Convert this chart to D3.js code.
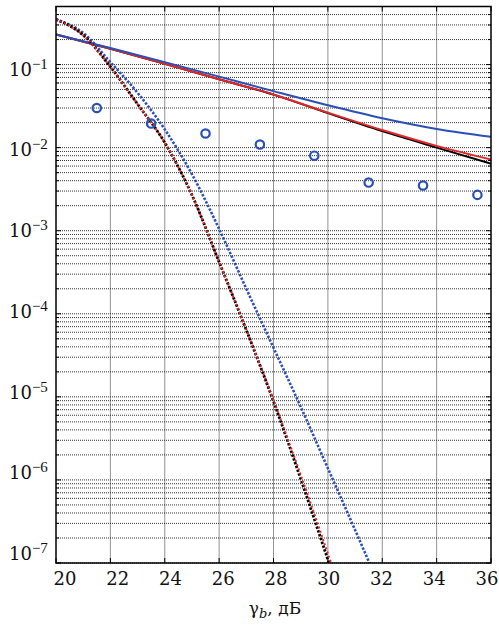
<!DOCTYPE html>
<html><head><meta charset="utf-8">
<script src="https://cdn.jsdelivr.net/npm/d3@7/dist/d3.min.js"></script>
<style>
html,body{margin:0;padding:0;background:#fff;}
svg{display:block;}
</style></head>
<body><svg id="chart" width="499" height="626"></svg>
<script>
// ---- data ----
const xTicks = [20,22,24,26,28,30,32,34,36];
const yTickExps = [-1,-2,-3,-4,-5,-6,-7];

const solidX = [20,22,24,26,28,30,32,34,36];
const berBlackSolid = [0.230,0.155,0.102,0.0665,0.0435,0.0260,0.0158,0.0100,0.0064];
const berRedSolid   = [0.230,0.155,0.102,0.0665,0.0437,0.0264,0.0163,0.0105,0.0072];
const berBlueSolid  = [0.230,0.158,0.107,0.0716,0.0479,0.0324,0.0226,0.0168,0.0135];

const dotX = [20,21,22,23,24,25,26,27,28,29,30,30.5,31,31.5,32];
const berBlackDot = [0.35,0.226,0.0942,0.0334,0.0115,2.69e-3,4.2e-4,6.37e-5,8.8e-6,1.03e-6,1.1e-7,3.6e-8,null,null,null];
const berRedDot   = [0.35,0.226,0.0942,0.0334,0.0115,2.69e-3,4.2e-4,6.45e-5,9.1e-6,1.15e-6,1.3e-7,4.3e-8,null,null,null];
const berBlueDot  = [0.35,0.24,0.107,0.0457,0.0166,4.79e-3,1.05e-3,2.0e-4,3.9e-5,7.6e-6,1.38e-6,5.9e-7,2.5e-7,1.05e-7,4.4e-8];

const circleX = [21.5,23.5,25.5,27.5,29.5,31.5,33.5,35.5];
const berCircles = [0.030,0.0195,0.0148,0.0109,0.0080,0.0038,0.0035,0.0027];

const xLabelMain = "γ", xLabelSub = "b", xLabelRest = ", дБ";

// ---- layout ----
const svg = d3.select("#chart");
const L = 56, R = 491, T = 6.5, B = 563;
const x = d3.scaleLinear().domain([20,36]).range([L,R]);
const y = d3.scaleLog().domain([1e-7,0.5]).range([B,T]);

const BLUE = "#2a4fb6", RED = "#e3262a", BLACK = "#000";
const serif = "'DejaVu Serif', serif";

svg.append("defs").append("clipPath").attr("id","clip")
  .append("rect").attr("x",L).attr("y",T).attr("width",R-L).attr("height",B-T);

// grid
const grid = svg.append("g");
const minorVals = [];
for (let e=-7; e<=-1; e++) for (let m=1; m<=9; m++) { const v = m*Math.pow(10,e); if (v<=0.5) minorVals.push(v); }
grid.selectAll("line.h").data(minorVals).join("line")
  .attr("x1",L).attr("x2",R).attr("y1",d=>y(d)).attr("y2",d=>y(d))
  .attr("stroke","#111").attr("stroke-width",1).attr("stroke-dasharray","1,1").attr("opacity",0.85);
grid.selectAll("line.v").data(xTicks.slice(1,-1)).join("line")
  .attr("y1",T).attr("y2",B).attr("x1",d=>x(d)).attr("x2",d=>x(d))
  .attr("stroke","#111").attr("stroke-width",1).attr("stroke-dasharray","1,1").attr("opacity",0.9);

// inward ticks
const tk = svg.append("g").attr("stroke","#000").attr("stroke-width",1);
minorVals.forEach(v=>{
  const len = (Math.abs(Math.log10(v)-Math.round(Math.log10(v)))<1e-9) ? 5 : 3;
  tk.append("line").attr("x1",L).attr("x2",L+len).attr("y1",y(v)).attr("y2",y(v));
  tk.append("line").attr("x1",R).attr("x2",R-len).attr("y1",y(v)).attr("y2",y(v));
});
xTicks.forEach(v=>{
  tk.append("line").attr("x1",x(v)).attr("x2",x(v)).attr("y1",B).attr("y2",B-5);
  tk.append("line").attr("x1",x(v)).attr("x2",x(v)).attr("y1",T).attr("y2",T+5);
});

// curves
const plot = svg.append("g").attr("clip-path","url(#clip)");
function drawLine(xs, ys, color, width, dash) {
  const pts = xs.map((xv,i)=>[xv, ys[i]]).filter(p=>p[1]!=null);
  plot.append("path").datum(pts)
    .attr("fill","none").attr("stroke",color).attr("stroke-width",width)
    .attr("stroke-dasharray",dash||null)
    .attr("d", d3.line().x(d=>x(d[0])).y(d=>y(d[1])).curve(d3.curveMonotoneX));
}
drawLine(solidX, berBlackSolid, BLACK, 2);
drawLine(solidX, berRedSolid, RED, 2);
drawLine(solidX, berBlueSolid, BLUE, 2);
drawLine(dotX, berBlueDot, BLUE, 2.6, "2.4,1.6");
drawLine(dotX, berBlackDot, BLACK, 2.8, "2.4,1.6");
drawLine(dotX, berRedDot, RED, 2.0, "2,2.4");

plot.selectAll("circle.pt").data(circleX.map((c,i)=>[c, berCircles[i]])).join("circle")
  .attr("cx",d=>x(d[0])).attr("cy",d=>y(d[1])).attr("r",4.2)
  .attr("fill","none").attr("stroke",BLUE).attr("stroke-width",2.2);

// frame
svg.append("rect").attr("x",L).attr("y",T).attr("width",R-L).attr("height",B-T)
  .attr("fill","none").attr("stroke","#000").attr("stroke-width",1.5);

// x tick labels (slightly pulled toward the centre, as in the reference)
svg.selectAll("text.xt").data(xTicks).join("text")
  .attr("x",d=>x(d)).attr("dx",(d,i)=>9 - 13*i/(xTicks.length-1))
  .attr("y",585).attr("text-anchor","middle")
  .attr("font-family",serif).attr("font-size",18).attr("fill","#111").text(d=>d);

// y tick labels
yTickExps.forEach((e,i)=>{
  const yy = y(Math.pow(10,e)) + 11 - 2.33*i;
  const t = svg.append("text").attr("x",9).attr("y",yy)
    .attr("font-family",serif).attr("font-size",18).attr("fill","#111");
  t.append("tspan").text("10");
  t.append("tspan").attr("dy",-7).attr("font-family","'Liberation Serif', serif").attr("font-size",15).text("−"+Math.abs(e));
});

// x axis label
const xl = svg.append("text").attr("x",275).attr("y",614).attr("text-anchor","middle")
  .attr("font-family",serif).attr("font-size",17).attr("fill","#111");
xl.append("tspan").text(xLabelMain);
xl.append("tspan").attr("dy",4).attr("font-size",13).attr("font-style","italic").text(xLabelSub);
xl.append("tspan").attr("dy",-4).text(xLabelRest);
</script></body></html>
